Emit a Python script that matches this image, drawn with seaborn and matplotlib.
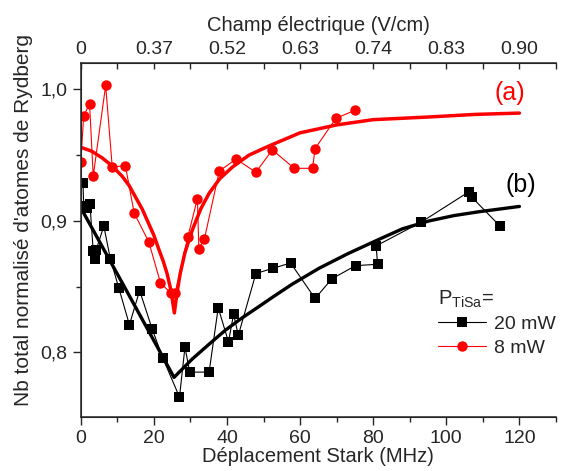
import numpy as np
import pandas as pd
import seaborn as sns
import matplotlib.pyplot as plt
from matplotlib.ticker import MultipleLocator

# 8 mW data (red circles)
red_x = [0.0, 0.8, 2.4, 3.4, 6.8, 8.6, 12.2, 14.6, 18.6, 21.8, 24.6, 25.8, 29.3, 31.9, 32.3, 33.8,
         37.9, 42.5, 47.9, 52.4, 58.4, 63.4, 64.1, 69.8, 74.9]
red_y = [0.945, 0.980, 0.989, 0.934, 1.003, 0.941, 0.942, 0.906, 0.884, 0.853, 0.845, 0.845, 0.888, 0.917, 0.879, 0.886,
         0.938, 0.947, 0.937, 0.954, 0.940, 0.940, 0.955, 0.978, 0.984]

# 20 mW data (black squares)
black_x = [0.6, 0.8, 1.7, 2.5, 3.4, 4.0, 4.2, 6.3, 8.1, 10.4, 13.3, 16.1, 19.5, 22.4, 27.0, 28.5, 29.8, 35.1,
           37.6, 40.4, 41.8, 43.1, 47.9, 52.6, 57.4, 64.1, 68.7, 75.2, 81.2, 80.8, 93.1, 106.1, 107.0, 114.7]
black_y = [0.929, 0.911, 0.910, 0.913, 0.877, 0.871, 0.878, 0.896, 0.871, 0.849, 0.821, 0.847, 0.818, 0.796, 0.766, 0.804, 0.785, 0.785,
           0.834, 0.808, 0.829, 0.813, 0.860, 0.864, 0.868, 0.841, 0.856, 0.866, 0.867, 0.881, 0.899, 0.922, 0.918, 0.896]

# fit curves
rfit_x = [0, 3, 5.8, 8.5, 11.3, 13.2, 15.0, 16.8, 18.4, 20.0, 21.4, 22.6, 23.6, 24.6, 25.6,
          26.3, 27.2, 28.5, 30.5, 32.8, 35.1, 38.0, 41.5, 46.0, 51.5, 60.0, 70.0, 80.0, 95.0, 108.0, 120.0]
rfit_y = [0.956, 0.953, 0.948, 0.942, 0.934, 0.927, 0.918, 0.909, 0.899, 0.889, 0.878, 0.869, 0.860, 0.848, 0.830,
          0.845, 0.860, 0.876, 0.893, 0.909, 0.921, 0.932, 0.941, 0.950, 0.957, 0.967, 0.973, 0.977, 0.979, 0.981, 0.982]
bfit_x = [0, 12.5, 25.5, 28.0, 30.5, 35.0, 39.6, 44.0, 48.8, 53.0, 57.9, 65.2, 73.0, 81.6, 88.0, 95.3, 102.0, 109.0, 120.0]
bfit_y = [0.910, 0.847, 0.781, 0.788, 0.795, 0.806, 0.817, 0.826, 0.835, 0.843, 0.852, 0.864, 0.875, 0.886, 0.894, 0.900, 0.904, 0.907, 0.911]

top_ticks = [0, 20, 40, 60, 80, 100, 120]
top_labels = ["0", "0.37", "0.52", "0.63", "0.74", "0.83", "0.90"]

sns.set_style("ticks")
plt.rcParams['font.family'] = ['Liberation Sans', 'DejaVu Sans']
plt.rcParams['mathtext.fontset'] = 'custom'
plt.rcParams['mathtext.rm'] = 'Liberation Sans'

red = pd.DataFrame({'x': red_x, 'y': red_y})
black = pd.DataFrame({'x': black_x, 'y': black_y})
rfit = pd.DataFrame({'x': rfit_x, 'y': rfit_y})
bfit = pd.DataFrame({'x': bfit_x, 'y': bfit_y})

fig = plt.figure(figsize=(5.65, 4.71), dpi=100)
ax = fig.add_axes([0.143, 0.115, 0.841, 0.751])

sns.lineplot(data=bfit, x='x', y='y', sort=False, estimator=None, color='black', lw=2.4, ax=ax)
sns.lineplot(data=rfit, x='x', y='y', sort=False, estimator=None, color='#ff0000', lw=2.5, ax=ax)
sns.lineplot(data=black, x='x', y='y', sort=False, estimator=None, color='black', lw=0.8,
             marker='s', markersize=6.5, markeredgewidth=0, ax=ax, label='20 mW')
sns.lineplot(data=red, x='x', y='y', sort=False, estimator=None, color='#ff0000', lw=0.8,
             marker='o', markersize=7.5, markeredgewidth=0, ax=ax, label='8 mW')

ax.set_xlim(0, 130)
ax.set_ylim(0.751, 1.02)
ax.xaxis.set_major_locator(MultipleLocator(20))
ax.xaxis.set_minor_locator(MultipleLocator(10))
ax.set_yticks([0.8, 0.9, 1.0], labels=['0,8', '0,9', '1,0'])
ax.yaxis.set_minor_locator(MultipleLocator(0.05))
ax.tick_params(which='major', direction='out', length=6, width=1, labelsize=14)
ax.tick_params(which='minor', direction='out', length=3.5, width=1)
ax.spines['right'].set_visible(False)
for s in ['left', 'bottom', 'top']:
    ax.spines[s].set_linewidth(1.1)
ax.set_xlabel('Déplacement Stark (MHz)', fontsize=14.5, labelpad=0)
ax.set_ylabel("Nb total normalisé d'atomes de Rydberg", fontsize=15)
ax.yaxis.set_label_coords(-0.10, 0.556)

ax2 = ax.twiny()
ax2.set_xlim(ax.get_xlim())
ax2.set_xticks(top_ticks, labels=top_labels)
ax2.xaxis.set_minor_locator(MultipleLocator(10))
ax2.tick_params(which='both', direction='in', length=4.5, width=1, labelsize=14, pad=4)
ax2.spines['right'].set_visible(False)
ax2.set_xlabel('Champ électrique (V/cm)', fontsize=14.5, labelpad=7)

ax.text(117.3, 0.997, '(a)', color='#ff0000', fontsize=18, ha='center', va='center')
ax.text(120.5, 0.927, '(b)', color='black', fontsize=18, ha='center', va='center')

leg = ax.legend(title='P$_{\\mathrm{TiSa}}$=', loc='upper left', bbox_to_anchor=(0.735, 0.385),
                frameon=False, fontsize=14, title_fontsize=14.5, handlelength=2.5,
                handletextpad=0.4, labelspacing=0.3, borderaxespad=0, alignment='left')

plt.savefig('out.png', dpi=100)
